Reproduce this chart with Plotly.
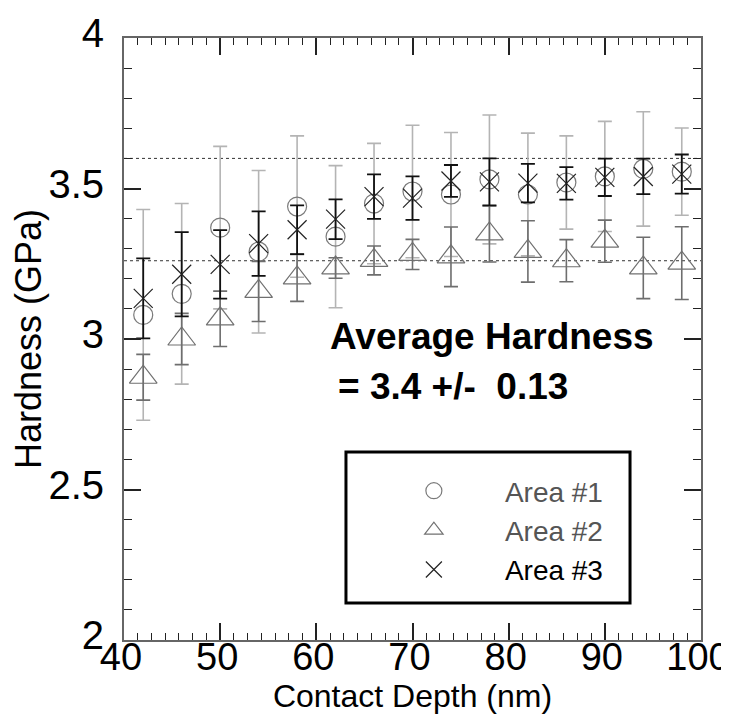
import plotly.graph_objects as go

# ---- data ----
depth = [42, 46, 50, 54, 58, 62, 66, 70, 74, 78, 82, 86, 90, 94, 98]

area1 = [3.08, 3.15, 3.37, 3.29, 3.44, 3.34, 3.45, 3.49, 3.48, 3.53, 3.48, 3.52, 3.54, 3.565, 3.556]
area1_err = [0.35, 0.30, 0.27, 0.27, 0.235, 0.236, 0.20, 0.22, 0.206, 0.214, 0.204, 0.155, 0.183, 0.19, 0.145]

area2 = [2.873, 3.00, 3.067, 3.158, 3.203, 3.236, 3.261, 3.281, 3.273, 3.349, 3.291, 3.26, 3.325, 3.236, 3.252]
area2_err = [0.076, 0.085, 0.092, 0.10, 0.078, 0.034, 0.048, 0.05, 0.099, 0.093, 0.102, 0.07, 0.07, 0.102, 0.121]

area3 = [3.135, 3.215, 3.248, 3.317, 3.363, 3.398, 3.473, 3.468, 3.525, 3.522, 3.518, 3.517, 3.537, 3.54, 3.548]
area3_err = [0.133, 0.14, 0.114, 0.107, 0.081, 0.066, 0.074, 0.072, 0.053, 0.078, 0.064, 0.054, 0.062, 0.059, 0.065]

series_names = ["Area #1", "Area #2", "Area #3"]

ref_lines = [3.6, 3.26]

x_tickvals = [40, 50, 60, 70, 80, 90, 100]
x_ticktext = ["40", "50", "60", "70", "80", "90", "100"]
y_tickvals = [2, 2.5, 3, 3.5, 4]
y_ticktext = ["2", "2.5", "3", "3.5", "4"]

avg_text_1 = "Average Hardness"
avg_text_2 = "= 3.4 +/-&nbsp; 0.13"

FONT = "Liberation Sans, Arial, sans-serif"

fig = go.Figure()

fig.add_trace(go.Scatter(
    x=depth, y=area1, mode="markers",
    name='<span style="color:#555555">' + series_names[0] + '</span>',
    marker=dict(symbol="circle-open", size=19, color="#7a7a7a", line=dict(width=1.2, color="#7a7a7a")),
    error_y=dict(type="data", array=area1_err, visible=True, color="#b4b4b4", thickness=1.6, width=7),
))
fig.add_trace(go.Scatter(
    x=depth, y=area2, mode="markers",
    name='<span style="color:#555555">' + series_names[1] + '</span>',
    marker=dict(symbol="triangle-up-open", size=24, color="#707070", line=dict(width=1.2, color="#707070")),
    error_y=dict(type="data", array=area2_err, visible=True, color="#6e6e6e", thickness=1.6, width=7),
))
fig.add_trace(go.Scatter(
    x=depth, y=area3, mode="markers",
    name='<span style="color:#000000">' + series_names[2] + '</span>',
    marker=dict(symbol="x-thin-open", size=19, color="#222222", line=dict(width=1.2, color="#222222")),
    error_y=dict(type="data", array=area3_err, visible=True, color="#111111", thickness=1.8, width=7),
))

for yv in ref_lines:
    fig.add_shape(type="line", xref="paper", x0=0, x1=1, yref="y", y0=yv, y1=yv,
                  line=dict(color="#333333", width=1, dash="dot"), layer="below")

# legend frame
fig.add_shape(type="rect", xref="paper", yref="paper",
              x0=0.3847, x1=0.877, y0=0.0615, y1=0.3123,
              line=dict(color="black", width=3), fillcolor="rgba(0,0,0,0)")

fig.add_annotation(text="<b>" + avg_text_1 + "</b>", x=61.2, y=3.008, xref="x", yref="y",
                   xanchor="left", yanchor="middle", showarrow=False,
                   font=dict(family=FONT, size=37, color="black"))
fig.add_annotation(text="<b>" + avg_text_2 + "</b>", x=62.05, y=2.842, xref="x", yref="y",
                   xanchor="left", yanchor="middle", showarrow=False,
                   font=dict(family=FONT, size=37, color="black"))

axis_common = dict(
    showgrid=False, zeroline=False, showline=True, linecolor="#666666", linewidth=2,
    mirror="allticks", ticks="inside", tickcolor="#222222", tickwidth=1.5, automargin=False,
)

fig.update_xaxes(
    range=[40, 100], tickmode="array", tickvals=x_tickvals, ticktext=x_ticktext, ticklen=17,
    minor=dict(dtick=10 / 7, tick0=40, ticks="inside", ticklen=7, tickcolor="#222222", tickwidth=1, showgrid=False),
    tickfont=dict(family=FONT, size=38, color="black"),
    title=dict(text="Contact Depth (nm)", font=dict(family=FONT, size=32, color="black"), standoff=3),
    ticklabelstandoff=-18, ticklabelshift=-3,
    **axis_common,
)
fig.update_yaxes(
    range=[2, 4], tickmode="array", tickvals=y_tickvals, ticktext=y_ticktext, ticklen=17,
    minor=dict(dtick=0.1, tick0=2, ticks="inside", ticklen=8, tickcolor="#222222", tickwidth=1, showgrid=False),
    tickfont=dict(family=FONT, size=40, color="black"),
    title=dict(text="Hardness (GPa)", font=dict(family=FONT, size=36, color="black"), standoff=2),
    ticklabelstandoff=10, ticklabelshift=-5,
    **axis_common,
)

fig.update_layout(
    template="none",
    width=729, height=723,
    margin=dict(l=116, r=36, t=30, b=91),
    paper_bgcolor="white", plot_bgcolor="white",
    font=dict(family=FONT, color="black"),
    showlegend=True,
    legend=dict(
        x=0.414, y=0.289, xanchor="left", yanchor="top",
        bgcolor="rgba(0,0,0,0)", borderwidth=0,
        font=dict(family=FONT, size=28),
        itemwidth=132, traceorder="normal",
    ),
)

fig.write_html("out.html")
